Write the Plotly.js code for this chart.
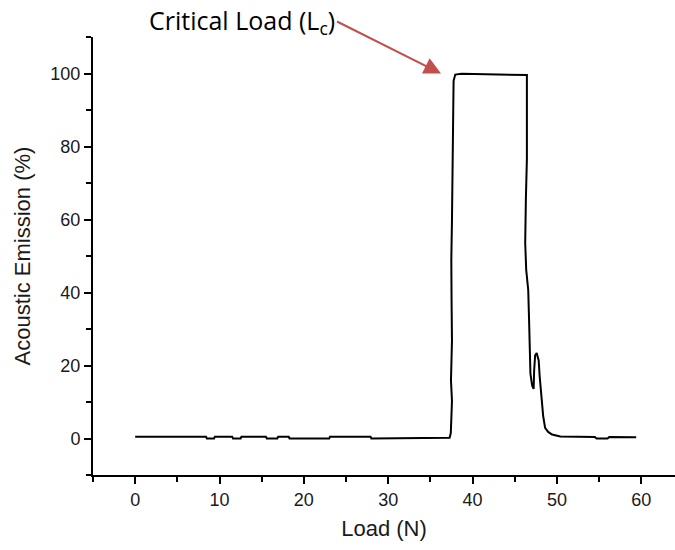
<!DOCTYPE html>
<html>
<head>
<meta charset="utf-8">
<script src="https://cdn.plot.ly/plotly-3.0.1.min.js"></script>
<style>
html,body{margin:0;padding:0;background:#fff;}
#chart{width:675px;height:550px;}
</style>
</head>
<body>
<div id="chart"></div>
<script>
// Load (N)
var loadN = [
  0, 8.4, 8.5, 9.35, 9.45, 11.5, 11.6, 12.5, 12.6, 15.5, 15.6, 16.85, 16.95, 18.2, 18.3, 23, 23.1, 27.9, 28.0, 37.2,
  37.28, 37.42, 37.48, 37.56, 37.44, 37.56, 37.51, 37.48, 37.56, 37.63, 37.68, 37.7, 37.75, 37.95, 38.7, 46.44,
  46.47, 46.44, 46.32, 46.24, 46.36, 46.6, 46.7, 46.8, 46.86, 47.06, 47.24, 47.3, 47.42, 47.6, 47.84, 47.95,
  48.13, 48.37, 48.6, 48.96, 49.43, 50.4, 54.5, 54.7, 56.0, 56.2, 59.4
];
// Acoustic Emission (%)
var emission = [
  0.5, 0.5, 0, 0, 0.5, 0.5, 0, 0, 0.5, 0.5, 0, 0, 0.5, 0.5, 0, 0, 0.5, 0.5, 0, 0,
  0.2, 1.5, 4.8, 10.3, 15.9, 26.9, 37.9, 49, 60, 71, 82, 93, 98, 99.7, 99.9, 99.6,
  87.6, 76.6, 65.5, 53.6, 46.2, 40.7, 32.4, 24.1, 17.8, 14.5, 13.6, 18.6, 22.8, 23.4, 21.4, 17.2,
  11.7, 6.2, 2.9, 1.8, 1.1, 0.55, 0.4, 0, 0, 0.4, 0.35
];
var xTicks = [0, 10, 20, 30, 40, 50, 60];
var yTicks = [0, 20, 40, 60, 80, 100];
var annotationText = 'Critical Load (L<sub>c</sub>)';
var criticalPoint = {x: 36.26, y: 100};

var trace = {
  x: loadN, y: emission, type: 'scatter', mode: 'lines',
  line: {color: '#000000', width: 2}, hoverinfo: 'skip', showlegend: false
};

var axisCommon = {
  showline: true, linecolor: '#000', linewidth: 2, mirror: false,
  ticks: 'outside', ticklen: 7, tickwidth: 2, tickcolor: '#000',
  showgrid: false, zeroline: false,
  tickfont: {family: 'Liberation Sans, Arial, sans-serif', size: 18, color: '#1a1a1a'}
};

var layout = {
  width: 675, height: 550,
  margin: {l: 93, r: 0, t: 37, b: 75},
  paper_bgcolor: '#fff', plot_bgcolor: '#fff',
  xaxis: Object.assign({}, axisCommon, {
    range: [-5, 64], tickmode: 'array', tickvals: xTicks, ticktext: xTicks.map(String),
    minor: {dtick: 5, tick0: 0, ticks: 'outside', ticklen: 5, tickwidth: 2, tickcolor: '#000', showgrid: false},
    title: {text: 'Load (N)', font: {family: 'Liberation Sans, Arial, sans-serif', size: 22, color: '#1a1a1a'}, standoff: 12}
  }),
  yaxis: Object.assign({}, axisCommon, {
    range: [-10, 110], tickmode: 'array', tickvals: yTicks, ticktext: yTicks.map(String),
    minor: {dtick: 10, tick0: 0, ticks: 'outside', ticklen: 5, tickwidth: 2, tickcolor: '#000', showgrid: false},
    title: {text: 'Acoustic Emission (%)', font: {family: 'Liberation Sans, Arial, sans-serif', size: 22, color: '#1a1a1a'}, standoff: 14}
  }),
  annotations: [
    {
      x: criticalPoint.x, y: criticalPoint.y, xref: 'x', yref: 'y', text: annotationText,
      xanchor: 'right', yanchor: 'middle',
      font: {family: 'Open Sans, sans-serif', size: 25, color: '#000'},
      showarrow: true, ax: -104, ay: -52, arrowhead: 2, arrowsize: 1.7, arrowwidth: 2,
      arrowcolor: '#c0504d', standoff: 0
    }
  ]
};

Plotly.newPlot('chart', [trace], layout, {staticPlot: true, displayModeBar: false});
</script>
</body>
</html>
